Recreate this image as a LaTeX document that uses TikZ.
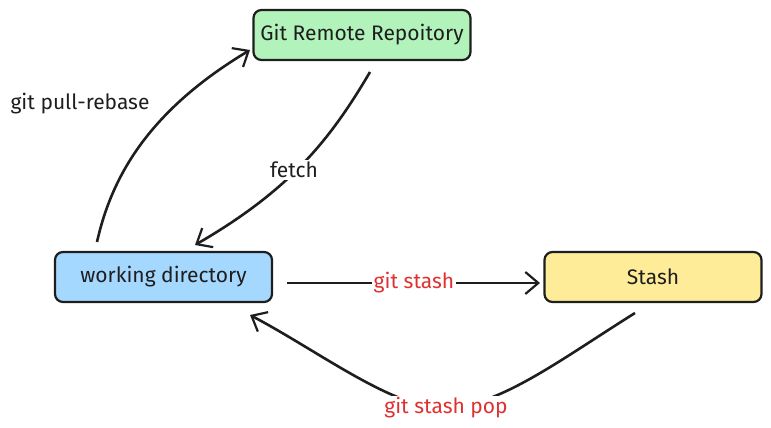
\documentclass[tikz,border=0pt]{standalone}
\usepackage{fontspec}
\setmainfont{Fira Sans}
\usetikzlibrary{arrows.meta}
\definecolor{gfill}{HTML}{B2F2BB}
\definecolor{bfill}{HTML}{A5D8FF}
\definecolor{yfill}{HTML}{FFEC99}
\definecolor{ink}{HTML}{1E1E1E}
\definecolor{redtxt}{HTML}{E03131}
\tikzset{
  box/.style={draw=ink, line width=2.2pt, rounded corners=8pt, minimum width=217pt, minimum height=50pt, inner sep=0pt, font=\fontsize{21}{24}\selectfont, text=ink},
  conn/.style={draw=ink, line width=2.6pt, -{Straight Barb[length=13pt,width=22pt,line width=2.2pt]}},
  lbl/.style={font=\fontsize{21}{24}\selectfont, text=ink, fill=white, inner sep=2pt},
  rlbl/.style={lbl, text=redtxt}
}
\begin{document}
\begin{tikzpicture}[x=1pt,y=-1pt]
\useasboundingbox (0,0) rectangle (771,428);
\node[box, fill=gfill] (remote) at (362,35) {Git Remote Repoitory};
\node[box, fill=bfill] (work) at (163.5,277) {working directory};
\node[box, fill=yfill] (stash) at (653,277) {Stash};
\coordinate (pullS) at (97,242);
\coordinate (pullE) at (250,50);
\coordinate (fetchS) at (370,72);
\coordinate (fetchE) at (195,245);
\coordinate (stS) at (287,283);
\coordinate (stE) at (540,283);
\coordinate (popS) at (635,313);
\coordinate (popM) at (446,408);
\coordinate (popE) at (250,315);
\draw[conn] (pullS) .. controls (112,175) and (150,110) .. (pullE);
\node[lbl, fill=none] (pulllbl) at (80,104) {git pull-rebase};
\draw[conn] (fetchS) .. controls (330,140) and (290,190) .. (fetchE);
\node[lbl] (fetchlbl) at (294,170) {fetch};
\draw[conn] (stS) -- (stE);
\node[rlbl] (stlbl) at (414,283) {git stash};
\draw[conn] (popS) .. controls (560,360) and (500,406) .. (popM) .. controls (395,410) and (320,352) .. (popE);
\node[rlbl, inner xsep=10pt] (poplbl) at (popM) {git stash pop};
\end{tikzpicture}
\end{document}
